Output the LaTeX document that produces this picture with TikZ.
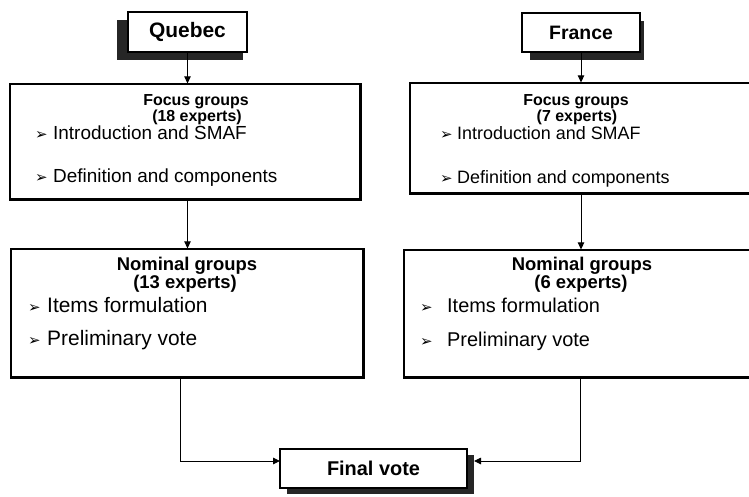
\documentclass[tikz,border=0pt]{standalone}
\usepackage{fontspec}
\setmainfont{Liberation Sans}
\newfontfamily\dejavu{DejaVu Sans}
\usetikzlibrary{arrows.meta}
\begin{document}
\begin{tikzpicture}[x=1bp,y=-1bp,
  box/.style={draw=black, line width=1.2bp, fill=white, inner sep=0pt},
  heavy/.style={line width=3bp},
  arr/.style={line width=0.9bp, -{Triangle[length=7bp,width=6.5bp]}},
  shadowfill/.style={fill=black!85},
  head/.style={inner sep=0pt, anchor=base, font=\bfseries\fontsize{#1}{#1}\selectfont},
  item/.style={inner sep=0pt, anchor=base west, font=\fontsize{#1}{#1}\selectfont},
  bul/.style={inner sep=0pt, anchor=base west, font=\dejavu\fontsize{15}{15}\selectfont}
]
\clip (0,0) rectangle (749,497);
\fill[white] (0,0) rectangle (749,497);

% shadows
\fill[shadowfill] (117,20) rectangle (243,60);
\fill[shadowfill] (530,21) rectangle (644,60);
\fill[shadowfill] (287,455) rectangle (474,494);

% Quebec column
\node[box, minimum width=119bp, minimum height=40bp, font=\bfseries\fontsize{21}{21}\selectfont] (qb) at (187.5,32) {Quebec};
\node[box, minimum width=350bp, minimum height=115bp] (qf) at (185,141.5) {};
\draw[heavy] (qf.north east) -- (qf.south east) -- (qf.south west);
\node[head=16] (qf1) at (196,106) {Focus groups};
\node[head=16] (qf2) at (197,122) {(18 experts)};
\node[bul] (qfb1) at (35,140) {➢};
\node[item=19] (qfi1) at (53,140) {Introduction and SMAF};
\node[bul] (qfb2) at (35,183) {➢};
\node[item=19] (qfi2) at (53,183) {Definition and components};

\node[box, minimum width=352bp, minimum height=128bp] (qn) at (187,313) {};
\draw[heavy] (qn.north east) -- (qn.south east) -- (qn.south west);
\node[head=18.5] (qn1) at (187,271) {Nominal groups};
\node[head=18.5] (qn2) at (185,289) {(13 experts)};
\node[bul] (qnb1) at (28,312) {➢};
\node[item=21] (qni1) at (47,312) {Items formulation};
\node[bul] (qnb2) at (28,345) {➢};
\node[item=21] (qni2) at (47,345) {Preliminary vote};

% France column
\node[box, minimum width=118bp, minimum height=39bp, font=\bfseries\fontsize{19.5}{19.5}\selectfont] (fr) at (581,32.5) {France};
\node[box, minimum width=350bp, minimum height=110bp] (ff) at (585,138) {};
\draw[heavy] (ff.north east) -- (ff.south east) -- (ff.south west);
\node[head=16] (ff1) at (576,106) {Focus groups};
\node[head=16] (ff2) at (577,122) {(7 experts)};
\node[bul] (ffb1) at (440,140) {➢};
\node[item=18] (ffi1) at (457,140) {Introduction and SMAF};
\node[bul] (ffb2) at (440,184) {➢};
\node[item=18] (ffi2) at (457,184) {Definition and components};

\node[box, minimum width=356bp, minimum height=127bp] (fn) at (582,313.5) {};
\draw[heavy] (fn.north east) -- (fn.south east) -- (fn.south west);
\node[head=18.5] (fn1) at (582,271) {Nominal groups};
\node[head=18.5] (fn2) at (581,289) {(6 experts)};
\node[bul] (fnb1) at (420,312) {➢};
\node[item=20] (fni1) at (447,312) {Items formulation};
\node[bul] (fnb2) at (420,346) {➢};
\node[item=20] (fni2) at (447,346) {Preliminary vote};

% Final vote
\node[box, minimum width=187bp, minimum height=39bp, font=\bfseries\fontsize{20}{20}\selectfont] (fv) at (373.5,468.5) {Final vote};

% connectors
\draw[arr] (qb.south) -- (qb.south |- qf.north);
\draw[arr] (qb.south |- qf.south) -- (qb.south |- qn.north);
\draw[arr] (fr.south) -- (fr.south |- ff.north);
\draw[arr] (fr.south |- ff.south) -- (fr.south |- fn.north);
\coordinate (qo) at (180,378.5);
\coordinate (fvw) at (280,461);
\draw[arr] (qo) |- (fvw);
\coordinate (fo) at (580,378.5);
\coordinate (fve) at (474,461);
\draw[arr] (fo) |- (fve);
\end{tikzpicture}
\end{document}
